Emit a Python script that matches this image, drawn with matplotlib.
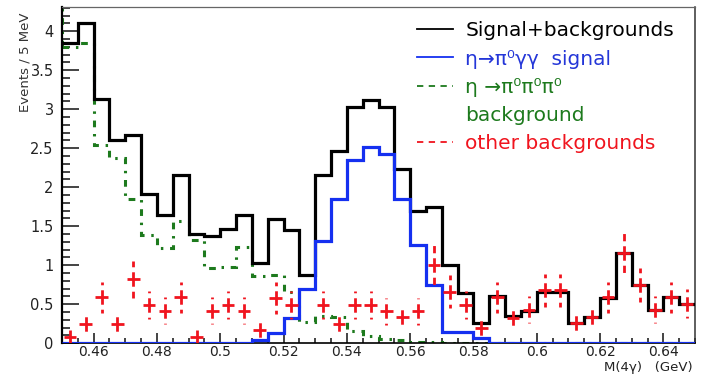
import numpy as np
import matplotlib
matplotlib.use("Agg")
import matplotlib.pyplot as plt
from matplotlib.lines import Line2D
from matplotlib.ticker import FixedLocator, MultipleLocator, FuncFormatter

# 5 MeV bins of the four-photon invariant mass, 0.45 - 0.65 GeV
mass_edges = np.linspace(0.45, 0.65, 41)

total = [3.85, 4.10, 3.13, 2.61, 2.67, 1.91, 1.64, 2.16, 1.40, 1.38,
         1.47, 1.65, 1.03, 1.59, 1.45, 0.87, 2.16, 2.46, 3.03, 3.12,
         3.03, 2.24, 1.69, 1.75, 1.00, 0.64, 0.26, 0.60, 0.35, 0.41,
         0.66, 0.66, 0.26, 0.34, 0.58, 1.16, 0.75, 0.43, 0.59, 0.51]

signal = [0, 0, 0, 0, 0, 0, 0, 0, 0, 0,
          0, 0, 0.04, 0.13, 0.32, 0.70, 1.31, 1.85, 2.35, 2.52,
          2.42, 1.85, 1.26, 0.75, 0.15, 0.15, 0.07, 0, 0, 0,
          0, 0, 0, 0, 0, 0, 0, 0, 0, 0]

bkg_3pi0 = [3.80, 3.85, 2.54, 2.37, 1.85, 1.39, 1.22, 1.57, 1.32, 0.96,
            0.98, 1.23, 0.86, 0.88, 0.66, 0.27, 0.35, 0.34, 0.16, 0.09,
            0.06, 0.04, 0.02, 0.02, 0.01, 0.01, 0.01, 0, 0, 0,
            0, 0, 0, 0, 0, 0, 0, 0, 0, 0]

bkg_other = [0.085, 0.25, 0.59, 0.25, 0.82, 0.49, 0.42, 0.59, 0.085, 0.42,
             0.49, 0.42, 0.17, 0.58, 0.49, 0.0, 0.49, 0.25, 0.49, 0.49,
             0.41, 0.34, 0.41, 1.00, 0.66, 0.49, 0.19, 0.59, 0.32, 0.43,
             0.68, 0.68, 0.26, 0.34, 0.59, 1.16, 0.75, 0.43, 0.59, 0.51]

bkg_other_err = [0.08, 0.13, 0.20, 0.13, 0.24, 0.18, 0.17, 0.20, 0.08, 0.17,
                 0.18, 0.17, 0.11, 0.20, 0.18, 0.0, 0.18, 0.13, 0.18, 0.18,
                 0.17, 0.15, 0.17, 0.26, 0.21, 0.18, 0.11, 0.20, 0.15, 0.17,
                 0.21, 0.21, 0.13, 0.15, 0.20, 0.28, 0.22, 0.17, 0.20, 0.19]

x_ticks = [0.46, 0.48, 0.50, 0.52, 0.54, 0.56, 0.58, 0.60, 0.62, 0.64]
y_ticks = [0, 0.5, 1, 1.5, 2, 2.5, 3, 3.5, 4]

legend_labels = ["Signal+backgrounds", "η→π⁰γγ  signal", "η →π⁰π⁰π⁰",
                 "background", "other backgrounds"]

BLACK = "#000000"
BLUE = "#1530f0"
GREEN = "#1d7a1d"
RED = "#f0141e"

plt.rcParams['font.family'] = ['DejaVu Sans']

fig = plt.figure(figsize=(7.02, 3.75), dpi=100)
W, H = 702.0, 375.0
ax = fig.add_axes([62 / W, 1 - 343.3 / H, (695 - 62) / W, (343.3 - 7) / H])

centers = 0.5 * (mass_edges[:-1] + mass_edges[1:])
width = mass_edges[1] - mass_edges[0]
green_style = (0, (2.2, 2.2, 0.8, 2.2))

# eta -> 3pi0 background, dash-dot histogram
ax.stairs(bkg_3pi0, mass_edges, baseline=None, color=GREEN, lw=2.2,
          linestyle=green_style, zorder=2)
ax.vlines(mass_edges[0], bkg_3pi0[0], 4.31, color=GREEN, lw=2.2,
          linestyle=green_style, zorder=2)

# total
ax.stairs(total, mass_edges, baseline=None, color=BLACK, lw=2.3, zorder=3)

# signal
ax.stairs(signal, mass_edges, baseline=None, color=BLUE, lw=2.3, zorder=4)

# other backgrounds: crosses with dashed vertical errors
oth = np.array(bkg_other)
err = np.array(bkg_other_err)
keep = oth > 0
xc, yc, ec = centers[keep], oth[keep], err[keep]
ax.hlines(yc, xc - 0.4 * width, xc + 0.4 * width, color=RED, lw=2.0, zorder=5)
err_style = (0, (2.6, 1.8))
ax.vlines(xc, yc, yc + ec, color=RED, lw=2.0, linestyle=err_style, zorder=5)
ax.vlines(xc, yc, yc - ec, color=RED, lw=2.0, linestyle=err_style, zorder=5)

ax.set_xlim(mass_edges[0], mass_edges[-1])
ax.set_ylim(0, 4.31)

fmt = FuncFormatter(lambda v, p: f"{v:g}")
ax.xaxis.set_major_locator(FixedLocator(x_ticks))
ax.xaxis.set_minor_locator(MultipleLocator(0.005))
ax.yaxis.set_major_locator(FixedLocator(y_ticks))
ax.yaxis.set_minor_locator(MultipleLocator(0.1))
ax.xaxis.set_major_formatter(fmt)
ax.yaxis.set_major_formatter(fmt)

ax.tick_params(axis='both', which='both', direction='in', colors='#111111',
               width=1.1, labelsize=10.5, labelcolor='#222222')
ax.tick_params(axis='y', which='major', length=12, pad=6)
ax.tick_params(axis='y', which='minor', length=6)
ax.tick_params(axis='x', which='major', length=7, pad=1.5, labelsize=10)
ax.tick_params(axis='x', which='minor', length=3.5)

ax.spines['left'].set_linewidth(1.6)
ax.spines['bottom'].set_linewidth(1.2)
ax.spines['top'].set_linewidth(0.9)
ax.spines['top'].set_color('#666666')
ax.spines['right'].set_linewidth(1.1)
ax.spines['right'].set_color('#333333')

fig.text(25.5 / W, 1 - 12 / H, "Events / 5 MeV", rotation=90, ha='center',
         va='top', fontsize=9.5, color='#333333')
ax.text(0.997, -0.072, "M(4γ)   (GeV)", transform=ax.transAxes, ha='right',
        va='center', fontsize=9.5, color='#222222')

handles = [
    Line2D([], [], color=BLACK, lw=1.3),
    Line2D([], [], color=BLUE, lw=1.3),
    Line2D([], [], color=GREEN, lw=1.3, linestyle=(0, (3.5, 3.0))),
    Line2D([], [], color='none', lw=0),
    Line2D([], [], color=RED, lw=1.3, linestyle=(0, (3.5, 3.0))),
]
leg = ax.legend(handles, legend_labels, loc='upper left',
                bbox_to_anchor=(0.561, 0.957), frameon=False, fontsize=14.5,
                handlelength=1.8, handletextpad=0.6, borderpad=0,
                borderaxespad=0, labelspacing=0.45,
                labelcolor=[BLACK, "#2436d8", GREEN, GREEN, RED])

fig.savefig("out.png", dpi=100)
